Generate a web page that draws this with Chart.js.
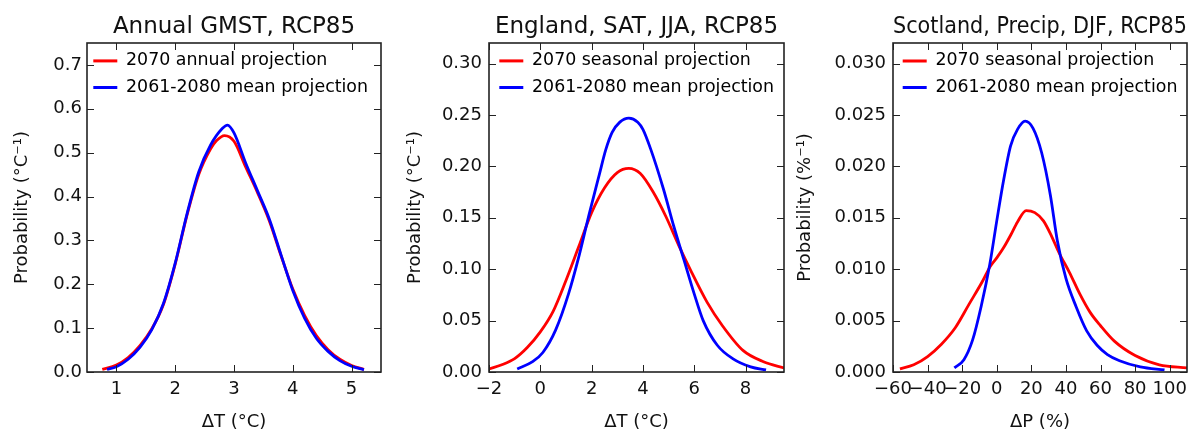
<!DOCTYPE html>
<html><head><meta charset="utf-8">
<script src="https://cdn.jsdelivr.net/npm/chart.js@4.4.1/dist/chart.umd.min.js"></script>
<style>
html,body{margin:0;padding:0;background:#fff;width:1204px;height:433px;overflow:hidden}
.p{position:absolute;top:0;height:433px}
</style></head><body>
<div class="p" style="left:0;width:400px"><canvas id="c1"></canvas></div>
<div class="p" style="left:400px;width:390px"><canvas id="c2"></canvas></div>
<div class="p" style="left:790px;width:414px"><canvas id="c3"></canvas></div>
<script>
// ---------- DATA ----------
// Panel 1: Annual GMST, RCP85
const gmstAnnualX = [0.76,1.0,1.2,1.4,1.6,1.8,2.0,2.2,2.4,2.6,2.7,2.84,3.0,3.2,3.4,3.6,3.8,4.0,4.2,4.4,4.6,4.8,5.0,5.21];
const gmstAnnualY = [0.006,0.016,0.033,0.060,0.098,0.154,0.246,0.357,0.450,0.508,0.527,0.539,0.526,0.467,0.409,0.345,0.265,0.189,0.129,0.083,0.051,0.029,0.015,0.006];
const gmstMeanX   = [0.84,1.0,1.2,1.4,1.6,1.8,2.0,2.2,2.4,2.6,2.8,2.89,3.0,3.2,3.4,3.6,3.8,4.0,4.2,4.4,4.6,4.8,5.0,5.21];
const gmstMeanY   = [0.006,0.012,0.029,0.056,0.096,0.156,0.248,0.360,0.456,0.517,0.555,0.563,0.545,0.476,0.413,0.349,0.267,0.186,0.123,0.077,0.047,0.026,0.013,0.005];
const gmstXTicks = [1,2,3,4,5];
const gmstYTicks = [0,0.1,0.2,0.3,0.4,0.5,0.6,0.7];

// Panel 2: England, SAT, JJA, RCP85
const engSeasonalX = [-2.0,-1.5,-1.0,-0.5,0,0.5,1.0,1.5,2.0,2.5,3.0,3.45,3.9,4.4,4.9,5.4,5.9,6.5,7.1,7.9,8.7,9.5];
const engSeasonalY = [0.003,0.007,0.013,0.024,0.039,0.059,0.089,0.122,0.155,0.179,0.194,0.198,0.193,0.175,0.151,0.123,0.097,0.068,0.045,0.021,0.010,0.004];
const engMeanX = [-0.9,-0.3,0.1,0.6,1.1,1.5,1.9,2.3,2.55,2.8,3.1,3.45,3.8,4.0,4.3,4.8,5.2,5.6,6.0,6.35,6.9,7.5,8.2,8.8];
const engMeanY = [0.003,0.010,0.019,0.041,0.076,0.112,0.153,0.192,0.216,0.233,0.243,0.247,0.243,0.236,0.217,0.178,0.142,0.109,0.076,0.050,0.026,0.013,0.005,0.002];
const engXTicks = [-2,0,2,4,6,8];
const engYTicks = [0,0.05,0.10,0.15,0.20,0.25,0.30];

// Panel 3: Scotland, Precip, DJF, RCP85
const scoSeasonalX = [-56,-48,-40,-32,-24,-16,-8,-4,0,4,8,12,17,22,27,32,36,42,48,54,60,68,80,94,110];
const scoSeasonalY = [0.0003,0.0007,0.0015,0.0027,0.0043,0.0066,0.0089,0.0102,0.0111,0.0121,0.0133,0.0146,0.0157,0.0155,0.0147,0.0131,0.0116,0.0097,0.0076,0.0058,0.0045,0.0030,0.0016,0.0007,0.0004];
const scoMeanX = [-24.5,-19,-14,-9,-4,0,4,8,12,16.4,21,26,31,35,40,46,52,58,64,71,83,97];
const scoMeanY = [0.0004,0.0012,0.0031,0.0064,0.0105,0.0147,0.0187,0.0220,0.0236,0.0244,0.0237,0.0213,0.0172,0.0128,0.0091,0.0063,0.0040,0.0026,0.0017,0.0011,0.0005,0.0002];
const scoXTicks = [-60,-40,-20,0,20,40,60,80,100];
const scoYTicks = [0,0.005,0.010,0.015,0.020,0.025,0.030];

// ---------- RENDERING ----------
const FONT = "'DejaVu Sans', 'Liberation Sans', sans-serif";
const TXT = '#111';
const pts = (xs, ys) => xs.map((x, i) => ({x: x, y: ys[i]}));
const fmtNum = (v, d) => { const s = Math.abs(v).toFixed(d); return (v < -1e-12 ? '\u2212' : '') + s; };

const frameTicks = {
  id: 'frameTicks',
  afterDatasetsDraw(chart) {
    const {ctx, chartArea: a, scales: {x, y}} = chart;
    const L = 7;
    ctx.save();
    ctx.strokeStyle = '#222';
    ctx.lineWidth = 1;
    ctx.beginPath();
    x.ticks.forEach(t => {
      const px = Math.round(x.getPixelForValue(t.value)) + 0.5;
      ctx.moveTo(px, a.bottom); ctx.lineTo(px, a.bottom - L);
      ctx.moveTo(px, a.top); ctx.lineTo(px, a.top + L);
    });
    y.ticks.forEach(t => {
      const py = Math.round(y.getPixelForValue(t.value)) + 0.5;
      ctx.moveTo(a.left, py); ctx.lineTo(a.left + L, py);
      ctx.moveTo(a.right, py); ctx.lineTo(a.right - L, py);
    });
    ctx.stroke();
    ctx.lineWidth = 1.6;
    ctx.strokeRect(a.left, a.top, a.right - a.left, a.bottom - a.top);
    ctx.restore();
  }
};

// place the legend inside the plot area (upper left), like matplotlib's loc='upper left'
const legendInArea = {
  id: 'legendInArea',
  afterLayout(chart, args, opts) {
    const lg = chart.legend, a = chart.chartArea;
    if (!lg || !a) return;
    const w = lg.width;
    lg.left = a.left + (opts.dx || 0);
    lg.right = lg.left + w;
    lg.top = a.top;
    lg.bottom = a.bottom;
  }
};

function makeChart(id, cfg) {
  const datasets = [
    {label: cfg.redLabel, data: pts(cfg.redX, cfg.redY), borderColor: '#ff0000', backgroundColor: '#ff0000', order: 1},
    {label: '2061-2080 mean projection', data: pts(cfg.blueX, cfg.blueY), borderColor: '#0000ff', backgroundColor: '#0000ff', order: 0}
  ].map(d => Object.assign(d, {borderWidth: 2.8, pointRadius: 0, fill: false, cubicInterpolationMode: 'monotone'}));
  return new Chart(document.getElementById(id), {
    type: 'line',
    data: {datasets: datasets},
    plugins: [frameTicks, legendInArea],
    options: {
      responsive: true, maintainAspectRatio: false, animation: false,
      layout: {padding: {left: 0, right: cfg.padRight, top: 0, bottom: 0}},
      plugins: {
        tooltip: {enabled: false},
        legendInArea: {dx: cfg.legendDx},
        title: {display: true, text: cfg.title, fullSize: false, color: TXT,
          font: {family: FONT, size: 23, weight: 'normal'}, padding: {top: 13, bottom: 2.4}},
        legend: {
          position: 'chartArea', align: 'start',
          labels: {
            boxWidth: 24, boxHeight: 3, padding: 9.2, color: TXT,
            font: {family: FONT, size: 17.4},
            generateLabels: chart => chart.data.datasets.map((d, i) => ({
              text: d.label, fillStyle: d.borderColor, strokeStyle: d.borderColor,
              lineWidth: 0, hidden: false, datasetIndex: i
            }))
          }
        }
      },
      scales: {
        x: {
          type: 'linear', min: cfg.xMin, max: cfg.xMax,
          afterBuildTicks: s => { s.ticks = cfg.xTicks.map(v => ({value: v})); },
          afterFit: s => { s.height = 61; },
          grid: {display: false, drawTicks: false}, border: {display: false},
          ticks: {padding: 7, color: TXT, autoSkip: false, maxRotation: 0,
            font: {family: FONT, size: 18}, callback: v => fmtNum(v, 0)},
          title: {display: true, text: cfg.xTitle, color: TXT,
            font: {family: FONT, size: 18}, padding: {top: 0, bottom: 0}}
        },
        y: {
          type: 'linear', min: 0, max: cfg.yMax,
          afterBuildTicks: s => { s.ticks = cfg.yTicks.map(v => ({value: v})); },
          afterFit: s => { s.width = cfg.yWidth; },
          grid: {display: false, drawTicks: false}, border: {display: false},
          ticks: {padding: cfg.yTickPad, color: TXT, font: {family: FONT, size: 18},
            callback: v => fmtNum(v, cfg.yDec)},
          title: {display: true, text: cfg.yTitle, color: TXT,
            font: {family: FONT, size: 18}, padding: {top: cfg.yTitlePad, bottom: 0}}
        }
      }
    }
  });
}

makeChart('c1', {
  title: 'Annual GMST, RCP85', redLabel: '2070 annual projection',
  redX: gmstAnnualX, redY: gmstAnnualY, blueX: gmstMeanX, blueY: gmstMeanY,
  xMin: 0.5, xMax: 5.5, xTicks: gmstXTicks, yMax: 0.75, yTicks: gmstYTicks, yDec: 1,
  xTitle: '\u0394T (\u00B0C)', yTitle: 'Probability (\u00B0C\u207B\u00B9)',
  yWidth: 87, padRight: 19, yTickPad: 5, yTitlePad: 11.2, legendDx: -2.9
});
makeChart('c2', {
  title: 'England, SAT, JJA, RCP85', redLabel: '2070 seasonal projection',
  redX: engSeasonalX, redY: engSeasonalY, blueX: engMeanX, blueY: engMeanY,
  xMin: -2, xMax: 9.5, xTicks: engXTicks, yMax: 0.32, yTicks: engYTicks, yDec: 2,
  xTitle: '\u0394T (\u00B0C)', yTitle: 'Probability (\u00B0C\u207B\u00B9)',
  yWidth: 89, padRight: 6, yTickPad: 7, yTitlePad: 4.6, legendDx: 1.1
});
makeChart('c3', {
  title: 'Scotland, Precip, DJF, RCP85', redLabel: '2070 seasonal projection',
  redX: scoSeasonalX, redY: scoSeasonalY, blueX: scoMeanX, blueY: scoMeanY,
  xMin: -60, xMax: 110, xTicks: scoXTicks, yMax: 0.032, yTicks: scoYTicks, yDec: 3,
  xTitle: '\u0394P (%)', yTitle: 'Probability (%\u207B\u00B9)',
  yWidth: 103, padRight: 17, yTickPad: 7, yTitlePad: 4.6, legendDx: 0.5
});
</script>
</body></html>
